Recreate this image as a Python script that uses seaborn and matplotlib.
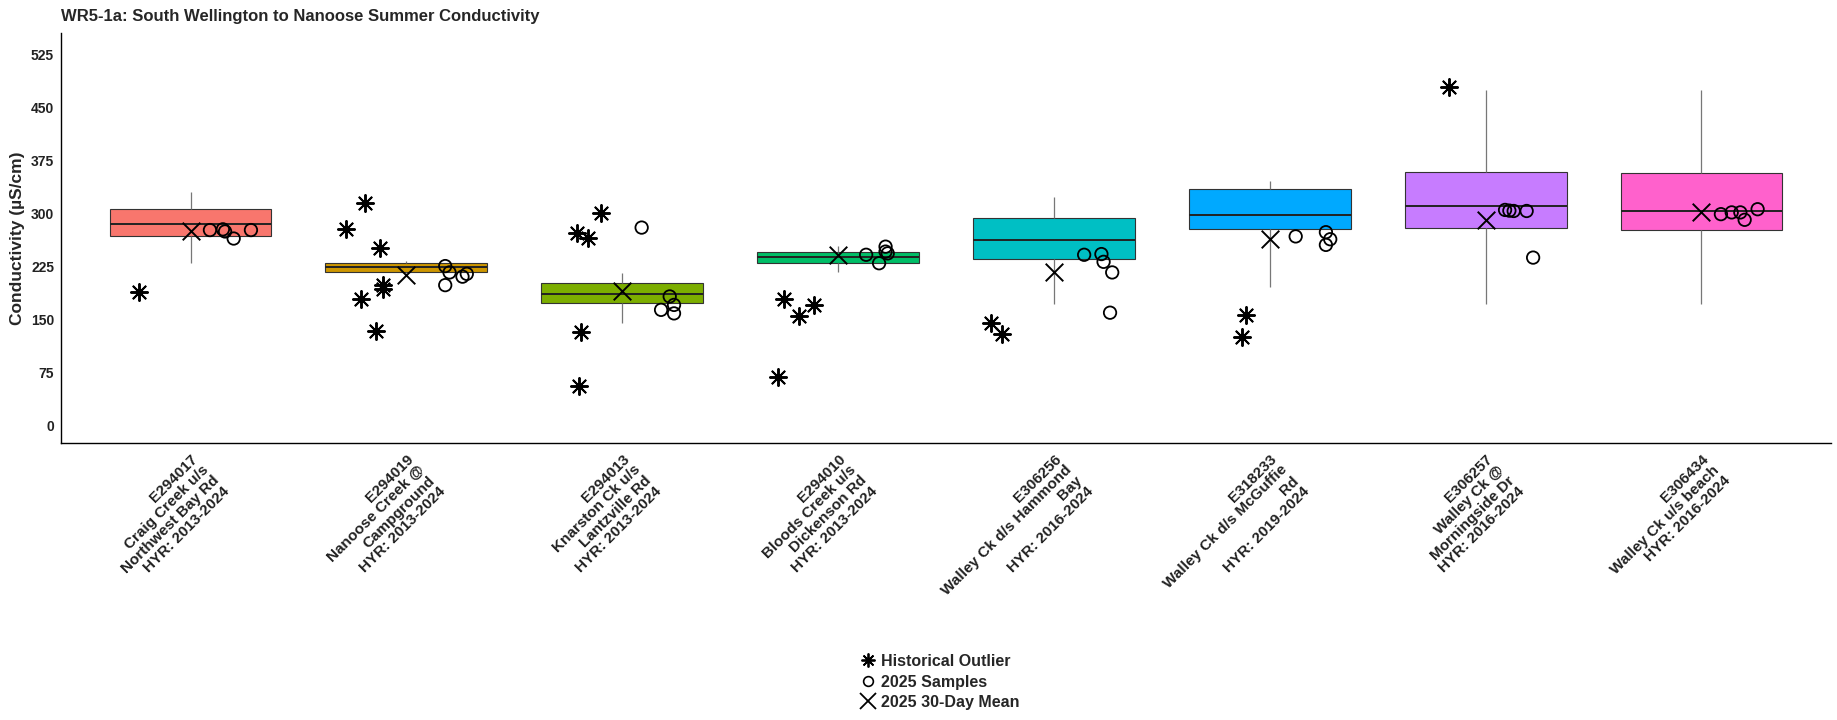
import numpy as np
import pandas as pd
import matplotlib
matplotlib.use("Agg")
import matplotlib.pyplot as plt
import seaborn as sns
from matplotlib.lines import Line2D

# station labels (x axis)
sites = [
    "E294017\nCraig Creek u/s\nNorthwest Bay Rd\nHYR: 2013-2024",
    "E294019\nNanoose Creek @\nCampground\nHYR: 2013-2024",
    "E294013\nKnarston Ck u/s\nLantzville Rd\nHYR: 2013-2024",
    "E294010\nBloods Creek u/s\nDickenson Rd\nHYR: 2013-2024",
    "E306256\nWalley Ck d/s Hammond\nBay\nHYR: 2016-2024",
    "E318233\nWalley Ck d/s McGuffie\nRd\nHYR: 2019-2024",
    "E306257\nWalley Ck @\nMorningside Dr\nHYR: 2016-2024",
    "E306434\nWalley Ck u/s beach\nHYR: 2016-2024",
]

# historical box stats (whisker low, Q1, median, Q3, whisker high)
box_low = [230, 216, 145, 217, 172, 196, 173, 173]
box_q1 = [269, 218, 174, 231, 236, 279, 280.5, 277]
box_median = [286, 224, 186.5, 239, 263, 299, 311.5, 304]
box_q3 = [307, 230, 202, 246.5, 294, 335, 359, 357.5]
box_high = [331, 233, 216, 254, 324, 346, 475, 475]

# 2025 30-day mean
mean_30day = [275, 213, 191, 242, 218, 265, 291, 302]

# 2025 samples
sample_site = [0, 0, 0, 0, 0,
               1, 1, 1, 1, 1,
               2, 2, 2, 2, 2,
               3, 3, 3, 3, 3,
               4, 4, 4, 4, 4,
               5, 5, 5, 5,
               6, 6, 6, 6, 6,
               7, 7, 7, 7, 7]
sample_value = [277, 278, 275, 265, 277,
                226, 217, 199, 211, 215,
                280.5, 183, 164, 171, 159,
                242, 253.5, 246.5, 230, 244,
                242, 243, 232, 217, 160,
                268, 274, 264, 256,
                305.5, 304.5, 304, 304, 238,
                299.5, 302, 302, 291.5, 306.5]
sample_jitter = [0.09, 0.15, 0.16, 0.20, 0.28,
                 0.18, 0.20, 0.18, 0.26, 0.28,
                 0.09, 0.22, 0.18, 0.24, 0.24,
                 0.13, 0.22, 0.22, 0.19, 0.23,
                 0.14, 0.22, 0.23, 0.27, 0.26,
                 0.12, 0.26, 0.28, 0.26,
                 0.09, 0.11, 0.13, 0.19, 0.22,
                 0.09, 0.14, 0.18, 0.20, 0.26]

# historical outliers
outlier_site = [0,
                1, 1, 1, 1, 1, 1, 1,
                2, 2, 2, 2, 2,
                3, 3, 3, 3,
                4, 4,
                5, 5,
                6]
outlier_value = [190,
                 315, 278, 252, 199, 194, 179.5, 134.5,
                 301, 272.5, 265.5, 133, 56,
                 179.5, 171, 156, 69.5,
                 146, 130,
                 157, 125,
                 480]
outlier_jitter = [-0.24,
                  -0.19, -0.28, -0.12, -0.11, -0.11, -0.21, -0.14,
                  -0.10, -0.21, -0.16, -0.19, -0.20,
                  -0.25, -0.11, -0.18, -0.28,
                  -0.29, -0.24,
                  -0.11, -0.13,
                  -0.17]

colors = ["#F8766D", "#CD9600", "#7CAE00", "#00BE67",
          "#00BFC4", "#00A9FF", "#C77CFF", "#FF61CC"]

sns.set_theme(style="white")
plt.rcParams['font.family'] = ['Liberation Sans', 'DejaVu Sans']
plt.rcParams['font.weight'] = 'bold'

box_df = pd.DataFrame({
    "site": np.repeat(sites, 5),
    "value": np.column_stack([box_low, box_q1, box_median, box_q3, box_high]).ravel(),
})

fig = plt.figure(figsize=(18.37, 7.2), dpi=100)
ax = fig.add_axes([61 / 1837, 1 - 443 / 720, 1770 / 1837, 410 / 720])

sns.boxplot(
    data=box_df, x="site", y="value", hue="site",
    order=sites, hue_order=sites, palette=colors, saturation=1,
    whis=(0, 100), showfliers=False, width=0.75,
    linecolor="#333333", linewidth=0.8, legend=False, ax=ax,
    medianprops={"color": "#222222", "linewidth": 1.4},
    whiskerprops={"color": "#777777", "linewidth": 0.9},
    capwidths=0,
)

x_pos = np.arange(len(sites))
ax.scatter(np.array(outlier_site) + np.array(outlier_jitter), outlier_value,
           marker=(8, 2, 0), s=150, c="black", linewidths=1.4, zorder=5)
ax.scatter(np.array(sample_site) + np.array(sample_jitter), sample_value,
           marker="o", s=80, facecolors="none", edgecolors="black", linewidths=1.3, zorder=6)
ax.scatter(x_pos, mean_30day, marker="x", s=160, c="black", linewidths=1.4, zorder=7)

ax.set_xlim(-0.6, 7.6)
ax.set_ylim(-24.5, 556)
ax.set_yticks(np.arange(0, 526, 75))
ax.set_xlabel("")
ax.set_ylabel("Conductivity (µS/cm)", fontsize=12.5, fontweight="bold", labelpad=4)
ax.tick_params(axis="both", length=3, width=0.8, color="#333333", labelsize=10, labelcolor="#222222")
ax.tick_params(axis="y", pad=2)
plt.setp(ax.get_xticklabels(), rotation=45, ha="right", rotation_mode="anchor",
         fontweight="bold", fontsize=11, linespacing=1.1)
plt.setp(ax.get_yticklabels(), fontweight="bold")
for side in ["top", "right"]:
    ax.spines[side].set_visible(False)
for side in ["left", "bottom"]:
    ax.spines[side].set_color("black")
    ax.spines[side].set_linewidth(1.0)

fig.text(61 / 1837, 1 - 17 / 720, "WR5-1a: South Wellington to Nanoose Summer Conductivity",
         fontsize=12, fontweight="bold", va="center", ha="left")

handles = [
    Line2D([0], [0], marker=(8, 2, 0), color="black", linestyle="none", markersize=10, markeredgewidth=1.3),
    Line2D([0], [0], marker="o", color="black", markerfacecolor="none", linestyle="none", markersize=7, markeredgewidth=1.2),
    Line2D([0], [0], marker="x", color="black", linestyle="none", markersize=11, markeredgewidth=1.3),
]
labels = ["Historical Outlier", "2025 Samples", "2025 30-Day Mean"]
fig.legend(handles, labels, loc="center", bbox_to_anchor=(940 / 1837, 1 - 682 / 720),
           frameon=False, prop={"size": 11.5, "weight": "bold"},
           handlelength=1.0, handletextpad=0.3, labelspacing=0.35, borderpad=0)

fig.savefig("out.png", dpi=100)
